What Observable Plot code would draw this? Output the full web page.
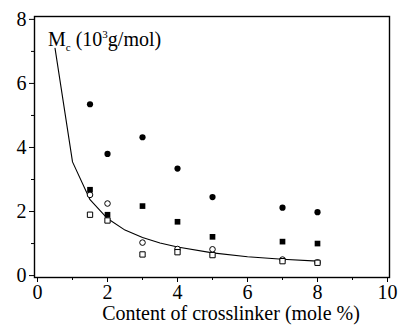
<!DOCTYPE html>
<html>
<head>
<meta charset="utf-8">
<script src="https://cdn.jsdelivr.net/npm/d3@7"></script>
<script src="https://cdn.jsdelivr.net/npm/@observablehq/plot@0.6"></script>
<style>
  html, body { margin: 0; padding: 0; background: #fff; }
  #chart svg { display: block; }
  #chart svg text { font-family: "Liberation Serif", "Times New Roman", serif !important; }
</style>
</head>
<body>
<div id="chart"></div>
<script>
// Crosslinker content (mole %)
const content = [1.5, 2, 3, 4, 5, 7, 8];
// Series values
const filledCircle = [5.35, 3.8, 4.32, 3.34, 2.45, 2.12, 1.98];
const filledSquare = [2.68, 1.9, 2.17, 1.68, 1.21, 1.06, 1.0];
const openCircle   = [2.52, 2.25, 1.03, 0.83, 0.82, 0.5, 0.41];
const openSquare   = [1.9, 1.72, 0.66, 0.73, 0.64, 0.45, 0.4];
// Theoretical curve points
const curveX = [0.5, 1, 1.5, 2, 2.5, 3, 3.5, 4, 5, 6, 7, 8];
const curveY = [7.1, 3.55, 2.37, 1.78, 1.42, 1.19, 1.02, 0.89, 0.71, 0.59, 0.51, 0.45];
// Ticks
const xMajor = [0, 2, 4, 6, 8, 10];
const xMinor = [1, 3, 5, 7, 9];
const yMajor = [0, 2, 4, 6, 8];
const yMinor = [1, 3, 5, 7];
const xTitle = "Content of crosslinker (mole %)";

const toRows = (ys) => content.map((x, i) => ({x, y: ys[i]}));
const curve = curveX.map((x, i) => ({x, y: curveY[i]}));

const font = "Liberation Serif";

const plot = Plot.plot({
  width: 399,
  height: 327,
  marginLeft: 34,
  marginRight: 10,
  marginTop: 16,
  marginBottom: 50,
  style: {fontFamily: font, fontSize: "19px", color: "#000", background: "#fff"},
  x: {domain: [-0.086, 10.057]},
  y: {domain: [-0.06, 8.09]},
  marks: [
    Plot.frame({stroke: "#000", strokeWidth: 1.4}),
    Plot.axisX({ticks: xMajor, tickSize: 5, tickPadding: 2, tickFormat: d => String(d), label: null, fontSize: 20}),
    Plot.axisX({ticks: xMinor, tickSize: 3, text: null, label: null}),
    Plot.axisY({ticks: yMajor, tickSize: 5, tickPadding: 3, tickFormat: d => String(d), label: null, fontSize: 20}),
    Plot.axisY({ticks: yMinor, tickSize: 3, text: null, label: null}),
    Plot.line(curve, {x: "x", y: "y", stroke: "#000", strokeWidth: 1.1}),
    Plot.dot(toRows(filledCircle), {x: "x", y: "y", symbol: "circle", r: 3.1, fill: "#000", stroke: "none"}),
    Plot.dot(toRows(filledSquare), {x: "x", y: "y", symbol: "square", r: 3.2, fill: "#000", stroke: "none"}),
    Plot.dot(toRows(openCircle), {x: "x", y: "y", symbol: "circle", r: 2.8, fill: "#fff", stroke: "#000", strokeWidth: 1}),
    Plot.dot(toRows(openSquare), {x: "x", y: "y", symbol: "square", r: 3.0, fill: "#fff", stroke: "#000", strokeWidth: 1}),
    Plot.text([xTitle], {frameAnchor: "bottom", text: d => d, dy: 42, dx: 19, fontSize: 20, textAnchor: "middle", fill: "#000"})
  ]
});

// Y-axis quantity label inside the frame (with subscript and superscript)
const svg = d3.select(plot);
const t = svg.append("text")
  .attr("x", 48).attr("y", 46)
  .attr("text-anchor", "start")
  .attr("font-size", 20).attr("fill", "#000");
t.append("tspan").text("M");
t.append("tspan").attr("dy", 5).attr("font-size", 11).text("c");
t.append("tspan").attr("dy", -5).text(" (10");
t.append("tspan").attr("dy", -8).attr("font-size", 11).text("3");
t.append("tspan").attr("dy", 8).text("g/mol)");

document.getElementById("chart").appendChild(plot);
</script>
</body>
</html>
